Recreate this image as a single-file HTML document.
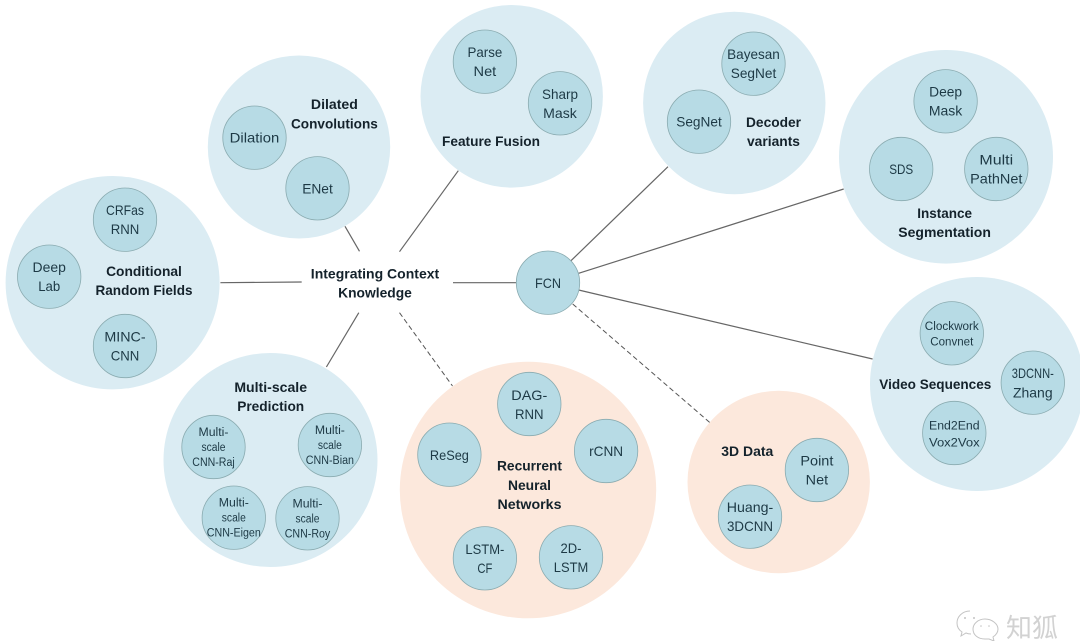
<!DOCTYPE html>
<html>
<head>
<meta charset="utf-8">
<style>
html,body{margin:0;padding:0;background:#fff;width:1080px;height:641px;overflow:hidden}
svg{display:block;filter:blur(.35px)}
text{font-family:"Liberation Sans","Noto Sans CJK SC",sans-serif;text-anchor:middle}
.big{fill:#dbecf3}
.or{fill:#fce8dc}
.s circle{fill:#b7dbe5;stroke:#8aabb0;stroke-width:.8}
.n text{font-size:14px;fill:#1d3945}
.m text{font-size:11.5px;fill:#1d3945}
.b text{font-size:14px;font-weight:bold;fill:#14222b}
.l line{stroke:#666;stroke-width:1.2}
.d line{stroke:#555;stroke-width:1;stroke-dasharray:5 3}
</style>
</head>
<body>
<svg width="1080" height="641" viewBox="0 0 1080 641" xmlns="http://www.w3.org/2000/svg">
<rect width="1080" height="641" fill="#fff"/>

<g>
<ellipse class="big" cx="112.6" cy="282.7" rx="107" ry="106.7"/>
<ellipse class="big" cx="299" cy="147" rx="91.2" ry="91.5"/>
<ellipse class="big" cx="511.7" cy="96.3" rx="91.2" ry="91.3"/>
<ellipse class="big" cx="734.3" cy="103" rx="91.2" ry="91.3"/>
<ellipse class="big" cx="946" cy="156.8" rx="107" ry="106.8"/>
<ellipse class="big" cx="977" cy="384" rx="107" ry="107"/>
<ellipse class="or" cx="778.7" cy="482" rx="91.2" ry="91.3"/>
<ellipse class="or" cx="528" cy="490" rx="128.2" ry="128.3"/>
<ellipse class="big" cx="270.5" cy="460" rx="107" ry="107"/>
</g>

<g class="l">
<line x1="220.4" y1="282.7" x2="301.7" y2="282"/>
<line x1="453" y1="282.7" x2="517" y2="282.7"/>
<line x1="345" y1="226.3" x2="359.5" y2="251.3"/>
<line x1="458.3" y1="170.7" x2="399.5" y2="251.7"/>
<line x1="358.8" y1="312.7" x2="326.4" y2="367"/>
<line x1="571" y1="260.7" x2="668" y2="166.7"/>
<line x1="578.6" y1="273.3" x2="843.7" y2="189"/>
<line x1="578.6" y1="290" x2="872.6" y2="359"/>
</g>
<g class="d">
<line x1="399.5" y1="312.7" x2="452.5" y2="386"/>
<line x1="572.7" y1="304" x2="710" y2="422.7"/>
</g>

<g class="s">
<circle cx="254.5" cy="137.7" r="31.7"/>
<circle cx="317.5" cy="188.3" r="31.7"/>
<circle cx="125" cy="219.7" r="31.7"/>
<circle cx="49.2" cy="276.7" r="31.7"/>
<circle cx="125" cy="346" r="31.7"/>
<circle cx="484.9" cy="61.7" r="31.7"/>
<circle cx="560" cy="103.3" r="31.7"/>
<circle cx="753.5" cy="63.7" r="31.7"/>
<circle cx="699" cy="121.7" r="31.7"/>
<circle cx="945.6" cy="101.3" r="31.7"/>
<circle cx="901.2" cy="169" r="31.7"/>
<circle cx="996.3" cy="169" r="31.7"/>
<circle cx="548" cy="282.7" r="31.7"/>
<circle cx="951.8" cy="333.3" r="31.7"/>
<circle cx="1032.8" cy="382.7" r="31.7"/>
<circle cx="954.3" cy="433" r="31.7"/>
<circle cx="816.9" cy="470" r="31.7"/>
<circle cx="750" cy="516.7" r="31.7"/>
<circle cx="606.1" cy="451" r="31.7"/>
<circle cx="571" cy="557.3" r="31.7"/>
<circle cx="484.9" cy="558.3" r="31.7"/>
<circle cx="449.4" cy="454.7" r="31.7"/>
<circle cx="529.3" cy="404" r="31.7"/>
<circle cx="213.5" cy="447" r="31.7"/>
<circle cx="329.9" cy="445" r="31.7"/>
<circle cx="233.8" cy="517.7" r="31.7"/>
<circle cx="307.5" cy="518.3" r="31.7"/>
</g>

<g class="n">
<text x="254.5" y="142.5" textLength="49.6" lengthAdjust="spacingAndGlyphs">Dilation</text>
<text x="317.5" y="193.5" textLength="30.6" lengthAdjust="spacingAndGlyphs">ENet</text>
<text x="125" y="215" textLength="37.9" lengthAdjust="spacingAndGlyphs">CRFas</text>
<text x="125" y="234" textLength="28.6" lengthAdjust="spacingAndGlyphs">RNN</text>
<text x="49.2" y="272" textLength="33.4" lengthAdjust="spacingAndGlyphs">Deep</text>
<text x="49.2" y="291" textLength="22" lengthAdjust="spacingAndGlyphs">Lab</text>
<text x="125" y="341.5" textLength="41.3" lengthAdjust="spacingAndGlyphs">MINC-</text>
<text x="125" y="360.5" textLength="28.6" lengthAdjust="spacingAndGlyphs">CNN</text>
<text x="484.9" y="57" textLength="34.8" lengthAdjust="spacingAndGlyphs">Parse</text>
<text x="484.9" y="76" textLength="22.7" lengthAdjust="spacingAndGlyphs">Net</text>
<text x="560" y="99" textLength="36" lengthAdjust="spacingAndGlyphs">Sharp</text>
<text x="560" y="118" textLength="33.7" lengthAdjust="spacingAndGlyphs">Mask</text>
<text x="753.5" y="59" textLength="52.7" lengthAdjust="spacingAndGlyphs">Bayesan</text>
<text x="753.5" y="78" textLength="45.5" lengthAdjust="spacingAndGlyphs">SegNet</text>
<text x="699" y="126.5" textLength="45.5" lengthAdjust="spacingAndGlyphs">SegNet</text>
<text x="945.6" y="96.5" textLength="33" lengthAdjust="spacingAndGlyphs">Deep</text>
<text x="945.6" y="115.5" textLength="33.4" lengthAdjust="spacingAndGlyphs">Mask</text>
<text x="901.2" y="174" textLength="24" lengthAdjust="spacingAndGlyphs">SDS</text>
<text x="996.3" y="164.5" textLength="33.7" lengthAdjust="spacingAndGlyphs">Multi</text>
<text x="996.3" y="183.5" textLength="52.3" lengthAdjust="spacingAndGlyphs">PathNet</text>
<text x="548" y="288" textLength="26" lengthAdjust="spacingAndGlyphs">FCN</text>
<text x="1032.8" y="378" textLength="42" lengthAdjust="spacingAndGlyphs">3DCNN-</text>
<text x="1032.8" y="397.5" textLength="39.6" lengthAdjust="spacingAndGlyphs">Zhang</text>
<text x="816.9" y="465.5" textLength="33" lengthAdjust="spacingAndGlyphs">Point</text>
<text x="816.9" y="484.5" textLength="22.4" lengthAdjust="spacingAndGlyphs">Net</text>
<text x="750" y="512" textLength="46.5" lengthAdjust="spacingAndGlyphs">Huang-</text>
<text x="750" y="531" textLength="46" lengthAdjust="spacingAndGlyphs">3DCNN</text>
<text x="606.1" y="456" textLength="34" lengthAdjust="spacingAndGlyphs">rCNN</text>
<text x="571" y="553" textLength="21" lengthAdjust="spacingAndGlyphs">2D-</text>
<text x="571" y="572" textLength="34.4" lengthAdjust="spacingAndGlyphs">LSTM</text>
<text x="484.9" y="554" textLength="39" lengthAdjust="spacingAndGlyphs">LSTM-</text>
<text x="484.9" y="573" textLength="15" lengthAdjust="spacingAndGlyphs">CF</text>
<text x="449.4" y="460" textLength="39" lengthAdjust="spacingAndGlyphs">ReSeg</text>
<text x="529.3" y="400" textLength="36" lengthAdjust="spacingAndGlyphs">DAG-</text>
<text x="529.3" y="419" textLength="28.6" lengthAdjust="spacingAndGlyphs">RNN</text>
</g>

<g class="m">
<text x="951.8" y="330" textLength="54" lengthAdjust="spacingAndGlyphs">Clockwork</text>
<text x="951.8" y="345.5" textLength="43" lengthAdjust="spacingAndGlyphs">Convnet</text>
<text x="954.3" y="429.5" textLength="50.6" lengthAdjust="spacingAndGlyphs">End2End</text>
<text x="954.3" y="446.5" textLength="50.6" lengthAdjust="spacingAndGlyphs">Vox2Vox</text>
<text x="213.5" y="436" textLength="30" lengthAdjust="spacingAndGlyphs">Multi-</text>
<text x="213.5" y="451" textLength="24" lengthAdjust="spacingAndGlyphs">scale</text>
<text x="213.5" y="466" textLength="42.4" lengthAdjust="spacingAndGlyphs">CNN-Raj</text>
<text x="329.9" y="434" textLength="30" lengthAdjust="spacingAndGlyphs">Multi-</text>
<text x="329.9" y="449" textLength="24" lengthAdjust="spacingAndGlyphs">scale</text>
<text x="329.9" y="464" textLength="48.2" lengthAdjust="spacingAndGlyphs">CNN-Bian</text>
<text x="233.8" y="506.7" textLength="30" lengthAdjust="spacingAndGlyphs">Multi-</text>
<text x="233.8" y="521.7" textLength="24" lengthAdjust="spacingAndGlyphs">scale</text>
<text x="233.8" y="536.7" textLength="54" lengthAdjust="spacingAndGlyphs">CNN-Eigen</text>
<text x="307.5" y="507.7" textLength="30" lengthAdjust="spacingAndGlyphs">Multi-</text>
<text x="307.5" y="522.7" textLength="24" lengthAdjust="spacingAndGlyphs">scale</text>
<text x="307.5" y="537.7" textLength="45.5" lengthAdjust="spacingAndGlyphs">CNN-Roy</text>
</g>

<g class="b">
<text x="334.4" y="109" textLength="47" lengthAdjust="spacingAndGlyphs">Dilated</text>
<text x="334.4" y="128.3" textLength="86.8" lengthAdjust="spacingAndGlyphs">Convolutions</text>
<text x="491" y="146" textLength="98" lengthAdjust="spacingAndGlyphs">Feature Fusion</text>
<text x="144" y="276" textLength="75.8" lengthAdjust="spacingAndGlyphs">Conditional</text>
<text x="144" y="295" textLength="97" lengthAdjust="spacingAndGlyphs">Random Fields</text>
<text x="375" y="278.5" textLength="128.4" lengthAdjust="spacingAndGlyphs">Integrating Context</text>
<text x="375" y="297.5" textLength="73.7" lengthAdjust="spacingAndGlyphs">Knowledge</text>
<text x="773.5" y="127" textLength="55" lengthAdjust="spacingAndGlyphs">Decoder</text>
<text x="773.5" y="146" textLength="53" lengthAdjust="spacingAndGlyphs">variants</text>
<text x="944.6" y="218" textLength="54.8" lengthAdjust="spacingAndGlyphs">Instance</text>
<text x="944.6" y="237" textLength="92.6" lengthAdjust="spacingAndGlyphs">Segmentation</text>
<text x="935.3" y="389" textLength="112" lengthAdjust="spacingAndGlyphs">Video Sequences</text>
<text x="747.3" y="456" textLength="52" lengthAdjust="spacingAndGlyphs">3D Data</text>
<text x="270.7" y="392" textLength="72.7" lengthAdjust="spacingAndGlyphs">Multi-scale</text>
<text x="270.7" y="411" textLength="67" lengthAdjust="spacingAndGlyphs">Prediction</text>
<text x="529.5" y="470.5" textLength="65" lengthAdjust="spacingAndGlyphs">Recurrent</text>
<text x="529.5" y="490" textLength="43" lengthAdjust="spacingAndGlyphs">Neural</text>
<text x="529.5" y="509" textLength="64" lengthAdjust="spacingAndGlyphs">Networks</text>
</g>

<g fill="none" stroke="#c4c4c4" stroke-width="1">
<path d="M970 611c-8 0-13 6-13 12 0 4 2 7 5 9l-1 4 5-3c2 1 3 1 5 1"/>
<path d="M985 619c-7 0-12 5-12 10 0 6 5 10 12 10 2 0 3 0 4 0l5 2-1-4c3-2 5-5 5-8 0-5-6-10-13-10z"/>
</g>
<g fill="#c4c4c4">
<circle cx="965" cy="618" r="1"/><circle cx="974" cy="618" r="1"/>
<circle cx="981" cy="626" r=".8"/><circle cx="989" cy="626" r=".8"/>
</g>
<text x="1032" y="637" font-size="26" fill="#d2d2d2" textLength="52" lengthAdjust="spacingAndGlyphs">知狐</text>
</svg>
</body>
</html>
